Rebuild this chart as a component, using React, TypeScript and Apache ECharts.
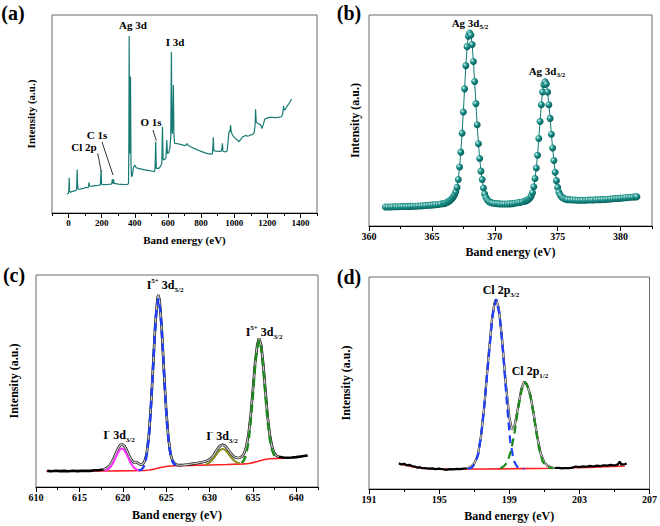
import React, { useEffect, useRef } from 'react';
import * as echarts from 'echarts';

const FONT = '"Liberation Serif", "Times New Roman", serif';

// ---------- (a) survey ----------
const surveyTicks = [0, 200, 400, 600, 800, 1000, 1200, 1400];
const surveyMinor = [-100, 100, 300, 500, 700, 900, 1100, 1300, 1500];
const surveyData: number[][] = [
  [-10, 9.6], [0, 10], [2, 12], [4, 17.8], [6, 11], [10, 10.5], [20, 10.8], [35, 11.2], [48, 11.5], [50, 15], [52, 22], [54, 15], [57, 12],
  [65, 12], [80, 12.3], [95, 12.5], [100, 13], [110, 12.8], [120, 13], [124, 15.5], [127, 13.5], [140, 13.6], [160, 13.8], [180, 14], [192, 14.2],
  [196, 21.4], [200, 14.5], [215, 14.3], [235, 14.4], [255, 14.6], [261, 14.7], [264, 17], [267, 14.8], [270, 15.0], [272, 17], [275, 15],
  [285, 14.8], [300, 14.6], [320, 14.5], [340, 14.4], [355, 14.5], [362, 14.8], [364, 35], [366, 89.4], [368, 45], [371, 30], [374, 68.9],
  [377, 25], [380, 18.3], [385, 19], [392, 23], [400, 24.2], [408, 23], [420, 22.5], [440, 22.2], [460, 21.8], [480, 21.5], [500, 21.2],
  [518, 20.9], [522, 22], [526, 36], [530, 22.5], [545, 22.5], [555, 23.5], [563, 25], [567, 43.6], [571, 27], [580, 27], [588, 28],
  [593, 36.9], [597, 30], [605, 30.5], [612, 33], [617, 38], [621, 81.5], [624, 42], [627, 40], [630, 50], [633, 64.6], [636, 40],
  [640, 35.2], [660, 35], [680, 34.5], [700, 34.0], [709, 34.4], [715, 35.0], [722, 34.2], [740, 33.3], [760, 32.5], [780, 31.8],
  [800, 31.1], [820, 30.5], [840, 30.0], [860, 29.7], [868, 29.8], [871, 33], [874, 38.2], [877, 31.5], [890, 31.2], [910, 31.1],
  [922, 31.2], [926, 33], [929, 35.2], [932, 31.2], [945, 30.9], [957, 31.3], [963, 36], [968, 40.5], [972, 41.5], [975, 41], [978, 44.4],
  [982, 41], [990, 39.4], [1000, 38.2], [1019, 36.9], [1029, 36], [1040, 37.2], [1049, 38.4], [1060, 38.8], [1069, 39.2], [1080, 38.8],
  [1090, 39.0], [1100, 39.5], [1110, 39.6], [1120, 40.5], [1126, 44], [1129, 52.4], [1133, 46], [1140, 45.5], [1150, 45], [1160, 44.5],
  [1168, 42.6], [1175, 44.5], [1185, 47.5], [1195, 47.8], [1210, 48.3], [1230, 48.3], [1250, 48.2], [1270, 48.4], [1285, 48.6],
  [1293, 50], [1298, 54], [1302, 52], [1310, 52.5], [1320, 54], [1335, 55.8], [1346, 57.6],
];

// ---------- (b) Ag 3d ----------
const agTicks = [360, 365, 370, 375, 380];
const agMinor = [362.5, 367.5, 372.5, 377.5, 382.5];
const agData: number[][] = [
  [361.3, 9.0], [361.5, 9.0], [361.7, 9.0], [361.9, 9.1], [362.1, 9.1], [362.3, 9.1], [362.5, 9.2], [362.7, 9.2], [362.9, 9.2],
  [363.1, 9.3], [363.3, 9.3], [363.5, 9.4], [363.7, 9.4], [363.9, 9.5], [364.1, 9.5], [364.3, 9.6], [364.5, 9.7], [364.7, 9.8],
  [364.9, 9.9], [365.1, 10.0], [365.3, 10.1], [365.5, 10.2], [365.7, 10.4], [365.9, 10.6],
  [366.0, 10.7], [366.1, 10.9], [366.2, 11.2], [366.3, 11.5], [366.4, 11.9], [366.5, 12.4], [366.6, 13.0], [366.7, 13.8], [366.8, 14.8],
  [366.9, 16.2], [367.0, 18.3], [367.1, 22], [367.2, 28], [367.3, 35], [367.4, 44], [367.5, 54], [367.6, 65], [367.7, 76], [367.8, 85],
  [367.9, 90], [368.0, 91.5], [368.1, 90.5], [368.2, 86], [368.3, 78], [368.4, 68.5], [368.5, 58], [368.6, 48], [368.7, 39], [368.8, 32],
  [368.9, 26], [369.0, 22], [369.1, 18], [369.2, 15.2], [369.3, 13.5], [369.4, 12.4], [369.5, 11.8], [369.6, 11.4], [369.7, 11.1], [369.8, 10.9],
  [370.0, 10.7], [370.2, 10.6], [370.4, 10.5], [370.6, 10.4], [370.8, 10.4], [371.0, 10.4], [371.2, 10.5], [371.4, 10.6], [371.6, 10.8],
  [371.8, 11.0], [372.0, 11.2], [372.2, 11.5], [372.4, 11.8],
  [372.5, 12.0], [372.6, 12.3], [372.7, 12.7], [372.8, 13.3], [372.9, 14.2], [373.0, 15.8], [373.1, 18.6], [373.2, 22.5], [373.3, 27.5],
  [373.4, 33.5], [373.5, 41.5], [373.6, 49.5], [373.7, 57.5], [373.8, 63.5], [373.9, 67], [374.0, 68.3], [374.1, 67.3], [374.2, 63.5],
  [374.3, 57.5], [374.4, 51], [374.5, 43.5], [374.6, 37], [374.7, 31], [374.8, 25.5], [374.9, 21.5], [375.0, 18.3], [375.1, 16],
  [375.2, 14.7], [375.3, 13.9], [375.4, 13.4], [375.5, 13.0], [375.6, 12.8], [375.7, 12.6], [375.8, 12.5],
  [376.0, 12.4], [376.2, 12.3], [376.4, 12.3], [376.6, 12.2], [376.8, 12.2], [377.0, 12.2], [377.2, 12.2], [377.4, 12.3], [377.6, 12.3],
  [377.8, 12.3], [378.0, 12.4], [378.2, 12.4], [378.4, 12.5], [378.6, 12.6], [378.8, 12.6], [379.0, 12.7], [379.2, 12.8], [379.4, 12.9],
  [379.6, 13.0], [379.8, 13.1], [380.0, 13.2], [380.2, 13.3], [380.4, 13.4], [380.6, 13.5], [380.8, 13.6], [381.0, 13.7], [381.2, 13.8], [381.3, 13.9],
];

// ---------- (c) I 3d ----------
const iTicks = [610, 615, 620, 625, 630, 635, 640];
const iMinor = [612.5, 617.5, 622.5, 627.5, 632.5, 637.5, 642.5];
const iRaw: number[][] = [
  [611.3, 7.6], [611.75, 7.4], [612.25, 7.7], [612.75, 7.5], [613.25, 7.6], [613.75, 7.4], [614.25, 7.7], [614.75, 7.5], [615.25, 7.6],
  [615.75, 7.7], [616.25, 7.6], [616.75, 7.9], [617.25, 7.9], [617.5, 8.1], [617.75, 8.3], [618.0, 8.6], [618.25, 9.2], [618.5, 10.2],
  [618.75, 11.8], [619.0, 13.9], [619.25, 16.3], [619.5, 18.5], [619.75, 19.9], [620.0, 20.0], [620.25, 19.0], [620.5, 17.0], [620.75, 14.6],
  [621.0, 12.8], [621.25, 11.6], [621.5, 11.8], [621.75, 11.3], [622.0, 10.6], [622.25, 10.5], [622.5, 12.0], [622.75, 15.5], [623.0, 24.0],
  [623.25, 38.5], [623.5, 57.5], [623.75, 77.0], [624.0, 89.0], [624.1, 90.6], [624.25, 88.0], [624.5, 74.0], [624.75, 54.5], [625.0, 36.5],
  [625.25, 23.5], [625.5, 15.5], [625.75, 12.2], [626.0, 10.9], [626.25, 10.4], [626.5, 10.3], [627.0, 10.4], [627.5, 10.6], [628.0, 10.9],
  [628.5, 11.2], [629.0, 11.6], [629.5, 12.0], [629.75, 12.4], [630.0, 13.0], [630.25, 13.9], [630.5, 15.2], [630.75, 16.9], [631.0, 18.4],
  [631.25, 19.5], [631.5, 19.9], [631.75, 19.5], [632.0, 18.4], [632.25, 17.0], [632.5, 15.6], [632.75, 14.5], [633.0, 13.9], [633.25, 13.7],
  [633.5, 13.8], [633.75, 14.4], [634.0, 16.0], [634.25, 19.3], [634.5, 25.0], [634.75, 34.0], [635.0, 46.0], [635.25, 58.5], [635.5, 67.0],
  [635.7, 70.1], [635.95, 67.0], [636.2, 57.5], [636.45, 45.0], [636.7, 33.0], [636.95, 24.5], [637.2, 19.0], [637.45, 16.0], [637.7, 14.8],
  [638.0, 14.3], [638.5, 13.9], [639.0, 13.8], [639.5, 13.9], [640.0, 14.1], [640.5, 14.4], [641.0, 14.7], [641.3, 14.9],
];
const iBackground: number[][] = [
  [611.2, 7.5], [613, 7.5], [615, 7.5], [617, 7.55], [619, 7.6], [621, 7.7], [622.5, 7.8], [623, 8.0], [623.5, 8.3], [624, 8.8],
  [624.5, 9.3], [625, 9.7], [625.5, 9.9], [626, 10.0], [628, 10.2], [630, 10.4], [632, 10.6], [634, 10.9], [634.5, 11.1], [635, 11.5],
  [635.5, 12.0], [636, 12.6], [636.5, 13.1], [637, 13.3], [638, 13.5], [639, 13.7], [640, 14.0], [640.7, 14.4], [641.3, 14.8],
];
const iMinus52: number[][] = [
  [617.9, 7.8], [618.15, 8.1], [618.4, 8.7], [618.65, 9.8], [618.9, 11.45], [619.15, 13.6], [619.4, 15.8], [619.65, 17.55], [619.9, 18.2],
  [620.15, 17.55], [620.4, 15.8], [620.65, 13.6], [620.9, 11.45], [621.15, 9.8], [621.4, 8.7], [621.65, 8.1], [621.9, 7.8],
];
const i5Plus52: number[][] = [
  [621.85, 7.9], [622.1, 8.1], [622.35, 9.0], [622.6, 11.5], [622.85, 17.2], [623.1, 28.1], [623.35, 45.0], [623.6, 65.2], [623.85, 82.2],
  [624.1, 89.0], [624.35, 82.7], [624.6, 66.1], [624.85, 46.2], [625.1, 29.6], [625.35, 18.9], [625.6, 13.4], [625.85, 11.05], [626.1, 10.3],
];
const iMinus32: number[][] = [
  [629.5, 10.55], [629.75, 10.9], [630.0, 11.5], [630.25, 12.4], [630.5, 13.6], [630.75, 15.1], [631.0, 16.5], [631.25, 17.55], [631.5, 18.0],
  [631.75, 17.6], [632.0, 16.65], [632.25, 15.3], [632.5, 13.9], [632.75, 12.7], [633.0, 11.9], [633.25, 11.4], [633.5, 11.15],
];
const i5Plus32: number[][] = [
  [633.7, 11.4], [633.95, 12.5], [634.2, 15.0], [634.45, 20.1], [634.7, 28.6], [634.95, 40.7], [635.2, 54.1], [635.45, 64.9], [635.7, 69.3],
  [635.95, 65.5], [636.2, 55.3], [636.45, 42.4], [636.7, 30.7], [636.95, 22.4], [637.2, 17.4], [637.45, 15.0], [637.7, 14.05],
];

// ---------- (d) Cl 2p ----------
const clTicks = [191, 195, 199, 203, 207];
const clMinor = [193, 197, 201, 205];
const clRaw: number[][] = [
  [192.7, 12.1], [192.85, 11.6], [193.0, 11.9], [193.15, 11.2], [193.3, 11.4], [193.45, 10.8], [193.6, 10.6], [193.75, 10.1], [193.9, 10.3],
  [194.05, 9.8], [194.2, 9.9], [194.4, 9.6], [194.6, 9.7], [194.8, 9.4], [195.0, 9.6], [195.2, 9.3], [195.4, 9.0], [195.6, 9.4], [195.8, 9.3],
  [196.0, 9.5], [196.2, 9.4], [196.4, 9.6], [196.6, 9.8], [196.8, 10.4], [197.0, 12.0], [197.2, 15.5], [197.4, 25.5], [197.6, 41], [197.8, 61],
  [198.0, 79], [198.15, 87.5], [198.25, 89.5], [198.4, 85.5], [198.6, 70], [198.8, 50], [199.0, 34], [199.15, 28], [199.3, 29.5], [199.5, 38.5],
  [199.7, 47.5], [199.85, 50.6], [200.0, 49.5], [200.2, 44.5], [200.4, 35], [200.6, 24.5], [200.8, 16.5], [201.0, 12.5], [201.2, 10.8],
  [201.4, 10.1], [201.6, 9.9], [201.8, 10.0], [202.0, 9.7], [202.2, 9.9], [202.4, 9.8], [202.6, 10.1], [202.8, 10.6], [203.0, 10.3],
  [203.2, 10.7], [203.4, 10.5], [203.6, 10.9], [203.8, 10.6], [204.0, 11.0], [204.2, 10.8], [204.4, 11.2], [204.6, 11.0], [204.8, 11.4],
  [205.0, 11.1], [205.2, 11.6], [205.3, 13.0], [205.4, 11.5], [205.6, 11.8], [205.7, 12.0],
];
const clBackground: number[][] = [
  [192.7, 11.8], [193.2, 11.0], [193.7, 10.2], [194.2, 9.7], [194.7, 9.5], [195.5, 9.4], [196.5, 9.4], [197.5, 9.4], [198.5, 9.5],
  [199.5, 9.6], [200.5, 9.7], [201.5, 9.8], [202.5, 10.0], [203.5, 10.2], [204.5, 10.5], [205.6, 10.85],
];
const cl2p32: number[][] = [
  [196.65, 9.5], [196.85, 10.0], [197.05, 12.0], [197.25, 17.0], [197.45, 29.0], [197.65, 46.0], [197.85, 64.0], [198.05, 82.0], [198.25, 89.5],
  [198.45, 82.0], [198.65, 64.0], [198.85, 42.0], [199.05, 23.0], [199.25, 13.5], [199.45, 10.5], [199.65, 9.7], [199.85, 9.5],
];
const cl2p12: number[][] = [
  [198.5, 9.7], [198.7, 10.8], [198.9, 12.8], [199.1, 18.0], [199.3, 26.5], [199.5, 37.5], [199.7, 46.5], [199.9, 50.6], [200.1, 47.5],
  [200.3, 40.0], [200.5, 29.0], [200.7, 19.0], [200.9, 13.0], [201.1, 10.8], [201.3, 10.0], [201.5, 9.8],
];

const grids = [
  { left: 52, top: 15, width: 265, height: 198 },
  { left: 369, top: 15, width: 283, height: 211 },
  { left: 36, top: 275, width: 282, height: 212 },
  { left: 369, top: 277, width: 282, height: 212 },
];

function xPair(gi: number, min: number, max: number, majors: number[], minors: number[], labelSize: number, nameSize: number, nameGap: number) {
  return [
    {
      type: 'value', gridIndex: gi, min, max, position: 'bottom',
      axisLine: { show: true, lineStyle: { color: '#000', width: 1 } },
      axisTick: { show: true, length: 5, customValues: majors, lineStyle: { color: '#000', width: 1 } },
      axisLabel: {
        customValues: majors, fontFamily: FONT, fontWeight: 'bold', fontSize: labelSize, color: '#000', margin: 5,
        formatter: (v: number) => String(v),
      },
      splitLine: { show: false },
      name: 'Band energy (eV)', nameLocation: 'middle', nameGap,
      nameTextStyle: { fontFamily: FONT, fontWeight: 'bold', fontSize: nameSize, color: '#000' },
    },
    {
      type: 'value', gridIndex: gi, min, max, position: 'bottom',
      axisLine: { show: false },
      axisTick: { show: true, length: 3, customValues: minors, lineStyle: { color: '#000', width: 1 } },
      axisLabel: { show: false },
      splitLine: { show: false },
    },
  ];
}

function yAx(gi: number, nameSize: number, nameGap: number) {
  return {
    type: 'value', gridIndex: gi, min: 0, max: 100,
    axisLine: { show: false }, axisTick: { show: false }, axisLabel: { show: false }, splitLine: { show: false },
    name: 'Intensity (a.u.)', nameLocation: 'middle', nameRotate: 90, nameGap,
    nameTextStyle: { fontFamily: FONT, fontWeight: 'bold', fontSize: nameSize, color: '#000' },
  };
}

function richSet(size: number) {
  const small = Math.round(size * 0.62);
  return {
    m: { fontSize: size, fontWeight: 'bold', fontFamily: FONT, fill: '#000', lineHeight: size + 4, verticalAlign: 'middle' },
    s: { fontSize: small, fontWeight: 'bold', fontFamily: FONT, fill: '#000', lineHeight: small, verticalAlign: 'bottom' },
    p: { fontSize: small, fontWeight: 'bold', fontFamily: FONT, fill: '#000', lineHeight: small, verticalAlign: 'top' },
  };
}

function label(x: number, y: number, text: string, size: number) {
  return {
    type: 'text', x, y, z: 100,
    style: { text, rich: richSet(size), align: 'center', verticalAlign: 'middle', textAlign: 'center', textVerticalAlign: 'middle' },
  };
}

function plain(x: number, y: number, text: string, size: number) {
  return {
    type: 'text', x, y, z: 100,
    style: {
      text, fill: '#000', font: `bold ${size}px ${FONT}`,
      align: 'center', verticalAlign: 'middle', textAlign: 'center', textVerticalAlign: 'middle',
    },
  };
}

function leader(x1: number, y1: number, x2: number, y2: number) {
  return { type: 'line', z: 100, shape: { x1, y1, x2, y2 }, style: { stroke: '#000', lineWidth: 0.8 } };
}

const line = (xi: number, yi: number, data: number[][], color: string, width: number, extra: any = {}) => ({
  type: 'line', xAxisIndex: xi, yAxisIndex: yi, data, showSymbol: false, symbol: 'none',
  lineStyle: { color, width, ...(extra.lineStyle || {}) }, z: extra.z ?? 2, silent: true,
});

export default function App() {
  const ref = useRef<HTMLDivElement>(null);
  useEffect(() => {
    if (!ref.current) return;
    const chart = echarts.init(ref.current, undefined, { renderer: 'svg' });
    const sphere = new echarts.graphic.RadialGradient(0.35, 0.35, 0.65, [
      { offset: 0, color: '#d8f4f0' },
      { offset: 0.45, color: '#1a918a' },
      { offset: 1, color: '#085f59' },
    ]);
    const option: any = {
      animation: false,
      backgroundColor: '#fff',
      grid: grids.map((g) => ({ ...g, show: true, borderColor: '#6b6b6b', borderWidth: 1, backgroundColor: 'transparent' })),
      xAxis: [
        ...xPair(0, -100, 1500, surveyTicks, surveyMinor, 9, 11, 21),
        ...xPair(1, 360, 382.5, agTicks, agMinor, 10, 12, 20),
        ...xPair(2, 610, 642.5, iTicks, iMinor, 10, 12, 22),
        ...xPair(3, 191, 207, clTicks, clMinor, 10, 12, 21),
      ],
      yAxis: [yAx(0, 11, 16), yAx(1, 12, 8), yAx(2, 12, 16), yAx(3, 12, 17)],
      series: [
        line(0, 0, surveyData, '#177a73', 1.2),
        {
          type: 'line', xAxisIndex: 2, yAxisIndex: 1, data: agData, symbol: 'circle', symbolSize: 7, showSymbol: true,
          itemStyle: { color: sphere, borderWidth: 0 }, lineStyle: { color: '#0f7a73', width: 1 }, silent: true,
        },
        line(4, 2, iBackground, '#ff2020', 1.6),
        line(4, 2, iRaw, '#000', 2.6),
        line(4, 2, iRaw.filter((p) => p[0] >= 617.6 && p[0] <= 638), '#c4c4c4', 1.4, { z: 3 }),
        line(4, 2, iMinus52, '#ff33ff', 2, { z: 4 }),
        line(4, 2, iMinus32, '#8c8c1e', 2, { z: 4 }),
        line(4, 2, i5Plus52, '#1f3dff', 2.4, { z: 4, lineStyle: { type: [8, 5] } }),
        line(4, 2, i5Plus32, '#1b8a1b', 2.4, { z: 4, lineStyle: { type: [8, 5] } }),
        line(6, 3, clBackground, '#ff2020', 1.6),
        line(6, 3, clRaw, '#000', 2.2),
        line(6, 3, clRaw.filter((p) => p[0] >= 196.6 && p[0] <= 201.6), '#c4c4c4', 1.4, { z: 3 }),
        line(6, 3, cl2p32, '#1f3dff', 2.2, { z: 4, lineStyle: { type: [8, 5] } }),
        line(6, 3, cl2p12, '#1b8a1b', 2.2, { z: 4, lineStyle: { type: [8, 5] } }),
      ],
      graphic: [
        plain(13, 13, '(a)', 20),
        plain(349, 13, '(b)', 20),
        plain(14, 275, '(c)', 20),
        plain(349, 277, '(d)', 20),
        plain(133, 25, 'Ag 3d', 11),
        plain(175, 42, 'I 3d', 11),
        plain(151, 122, 'O 1s', 11),
        plain(97, 135, 'C 1s', 11),
        plain(84, 147, 'Cl 2p', 11),
        leader(97.7, 153.3, 101.3, 171.7),
        leader(102, 142, 113, 175),
        leader(153, 130, 156.3, 140.7),
        label(470, 23, '{m|Ag 3d}{s|5/2}', 11),
        label(547, 71, '{m|Ag 3d}{s|3/2}', 11),
        label(165, 285, '{m|I}{p|5+}{m| 3d}{s|5/2}', 12),
        label(264, 332, '{m|I}{p|5+}{m| 3d}{s|3/2}', 12),
        label(119, 435, '{m|I}{p|-}{m| 3d}{s|3/2}', 12),
        label(222, 436, '{m|I}{p|-}{m| 3d}{s|3/2}', 12),
        label(501, 290, '{m|Cl 2p}{s|3/2}', 12),
        label(530, 371, '{m|Cl 2p}{s|1/2}', 12),
      ],
    };
    chart.setOption(option);
    return () => chart.dispose();
  }, []);
  return <div ref={ref} style={{ width: 660, height: 526, position: 'absolute', left: 0, top: 0 }} />;
}
